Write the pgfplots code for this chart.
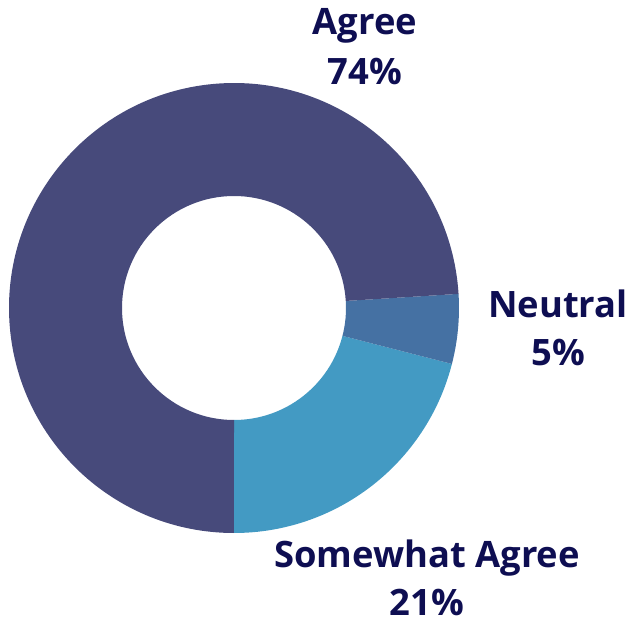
\documentclass[border=0pt]{standalone}
\usepackage{fontspec}
\setmainfont{Open Sans}
\usepackage{pgfplots}
\usepackage{pgfplotstable}
\pgfplotsset{compat=1.18}

\definecolor{cAgree}{HTML}{474A7B}
\definecolor{cNeutral}{HTML}{4571A3}
\definecolor{cSomewhat}{HTML}{439AC3}
\definecolor{txt}{HTML}{0E0E52}

% shares in percent, drawn counter-clockwise from 6 o'clock
\pgfplotstableread{
label value
Somewhat 21
Neutral 5
Agree 74
}\shares

\pgfplotstablegetelem{0}{value}\of\shares \let\vSomewhat\pgfplotsretval
\pgfplotstablegetelem{1}{value}\of\shares \let\vNeutral\pgfplotsretval
\pgfplotstablegetelem{2}{value}\of\shares \let\vAgree\pgfplotsretval

\pgfmathsetmacro\aA{-90}
\pgfmathsetmacro\aB{\aA+3.6*\vSomewhat}
\pgfmathsetmacro\aC{\aB+3.6*\vNeutral}
\pgfmathsetmacro\aD{\aC+3.6*\vAgree}

\def\cx{234}
\def\cy{316}
\def\Ro{225}
\def\Ri{112}

% wedge of the ring between two angles
\newcommand\ringslice[3]{%
  \fill[#3] (axis cs:{\cx+\Ro*cos(#1)},{\cy+\Ro*sin(#1)})
    arc[start angle=#1, end angle=#2, radius=\Ro bp]
    -- (axis cs:{\cx+\Ri*cos(#2)},{\cy+\Ri*sin(#2)})
    arc[start angle=#2, end angle=#1, radius=\Ri bp] -- cycle;}

\tikzset{lbl/.style={font=\fontsize{36.5}{42}\selectfont\bfseries, text=txt, anchor=base, inner sep=0pt}}

\begin{document}
\begin{tikzpicture}
\path[use as bounding box] (0,0) rectangle (632bp,624bp);
\begin{axis}[
    at={(0,0)}, anchor=south west,
    x=1bp, y=1bp,
    xmin=0, xmax=632, ymin=0, ymax=624,
    hide axis,
    clip=false,
]
\ringslice{\aA}{\aB}{cSomewhat}
\ringslice{\aB}{\aC}{cNeutral}
\ringslice{\aC}{\aD}{cAgree}

\node[lbl] at (axis cs:365,589) {Agree};
\node[lbl] at (axis cs:365,539) {\vAgree\%};
\node[lbl] at (axis cs:558,307) {Neutral};
\node[lbl] at (axis cs:558,259) {\vNeutral\%};
\node[lbl] at (axis cs:427,57) {Somewhat Agree};
\node[lbl] at (axis cs:427,9) {\vSomewhat\%};
\end{axis}
\end{tikzpicture}
\end{document}
